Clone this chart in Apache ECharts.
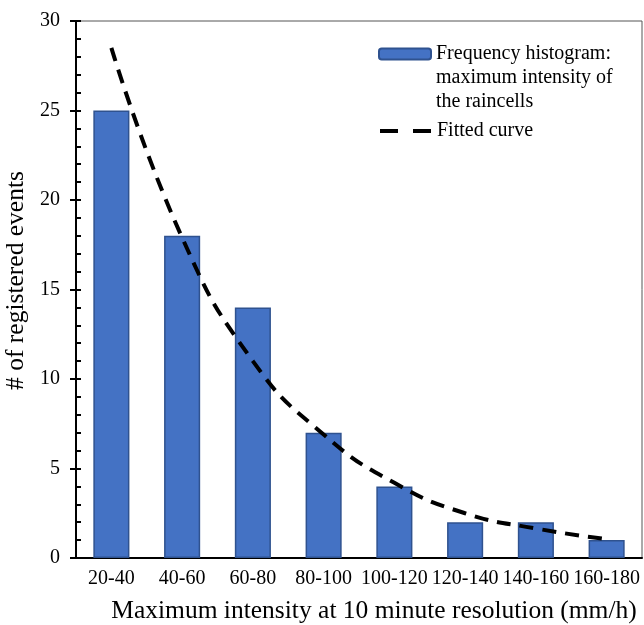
<!DOCTYPE html>
<html>
<head>
<meta charset="utf-8">
<script src="https://cdn.jsdelivr.net/npm/echarts@6/dist/echarts.min.js"></script>
<style>
  html, body { margin: 0; padding: 0; background: #fff; }
  #main { width: 644px; height: 625px; }
</style>
</head>
<body>
<div id="main"></div>
<script>
// histogram classes and counts
var categories = ['20-40', '40-60', '60-80', '80-100', '100-120', '120-140', '140-160', '160-180'];
var counts = [25, 18, 14, 7, 4, 2, 2, 1];
// fitted curve read at class centres
var fitted = [28.5, 17.9, 11.0, 6.9, 4.2, 2.5, 1.65, 1.05];
var yTicks = [0, 5, 10, 15, 20, 25, 30];

var barName = 'Frequency histogram:\nmaximum intensity of\nthe raincells';
var lineName = 'Fitted curve';
var font = '"Liberation Serif", "Times New Roman", serif';

var myChart = echarts.init(document.getElementById('main'));
var option = {
  animation: false,
  textStyle: { fontFamily: font },
  grid: {
    left: 76, right: 2, top: 21, bottom: 67,
    outerBoundsMode: 'none',
    show: true, borderColor: '#555', borderWidth: 1
  },
  legend: [{
    data: [barName],
    left: 373, top: -11,
    itemWidth: 52, itemHeight: 11,
    // two empty lines in front so the icon sits on the first line
    formatter: function (n) { return '\n\n' + n; },
    textStyle: { fontFamily: font, fontSize: 20, color: '#000', lineHeight: 24 }
  }, {
    data: [lineName],
    left: 373, top: 116,
    itemWidth: 52, itemHeight: 11,
    itemStyle: { color: 'transparent', borderWidth: 0 },
    lineStyle: { width: 4, type: [18, 15] },
    textStyle: { fontFamily: font, fontSize: 20, color: '#000' }
  }],
  xAxis: [{
    type: 'category',
    data: categories,
    name: 'Maximum intensity at 10 minute resolution (mm/h)',
    nameLocation: 'middle',
    nameGap: 40,
    nameTextStyle: { fontFamily: font, fontSize: 25.5, color: '#000', padding: [0, 0, 0, 30] },
    axisLine: { lineStyle: { color: '#000', width: 2 } },
    axisTick: { length: 7, lineStyle: { color: '#000', width: 2 } },
    axisLabel: { fontFamily: font, fontSize: 20, color: '#000', margin: 11, interval: 0 }
  }, {
    type: 'category',
    data: categories,
    position: 'bottom',
    axisLine: { show: false },
    axisTick: { inside: true, alignWithLabel: true, length: 5, lineStyle: { color: '#000', width: 2 } },
    axisLabel: { show: false }
  }],
  yAxis: [{
    type: 'value',
    position: 'left',
    min: yTicks[0], max: yTicks[yTicks.length - 1], interval: 5,
    name: '# of registered events',
    nameLocation: 'middle',
    nameGap: 43,
    nameTextStyle: { fontFamily: font, fontSize: 25.5, color: '#000', padding: [0, 0, 0, 18] },
    splitLine: { show: false },
    axisLine: { show: true, lineStyle: { color: '#000', width: 2 } },
    axisTick: { show: true, length: 6, lineStyle: { color: '#000', width: 2 } },
    axisLabel: { fontFamily: font, fontSize: 20, color: '#000', margin: 16 }
  }, {
    type: 'value',
    position: 'left',
    min: 0, max: 30, interval: 1,
    splitLine: { show: false },
    axisLine: { show: false },
    axisTick: { show: true, inside: true, length: 5, lineStyle: { color: '#000', width: 2 } },
    axisLabel: { show: false }
  }],
  series: [{
    name: barName,
    type: 'bar',
    data: counts,
    barWidth: '51%',
    itemStyle: { color: '#4472C4', borderColor: '#2F528F', borderWidth: 1.5 }
  }, {
    name: lineName,
    type: 'line',
    data: fitted,
    smooth: true,
    symbol: 'none',
    z: 5,
    itemStyle: { color: '#000' },
    lineStyle: { color: '#000', width: 4, type: [14, 9] }
  }]
};
myChart.setOption(option);
window.onresize = function () {
  myChart.resize();
};
</script>
</body>
</html>
